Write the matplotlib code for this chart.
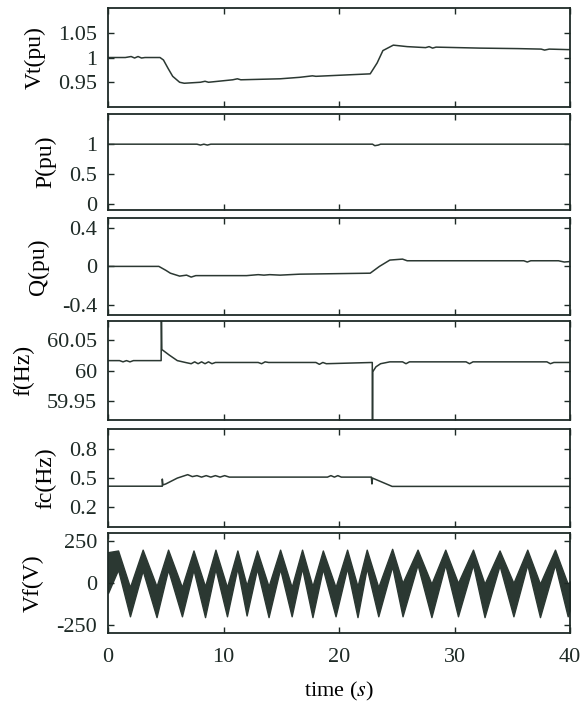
import matplotlib
matplotlib.use('Agg')
import matplotlib.pyplot as plt

plt.rcParams['font.family'] = ['Liberation Serif', 'DejaVu Serif']
plt.rcParams['mathtext.fontset'] = 'stix'

LINE = '#2b3832'

# terminal voltage (pu)
VT_T = [0, 1.5, 2.0, 2.3, 2.6, 2.9, 3.2, 4.5, 4.8, 5.2, 5.6, 6.2, 6.6, 8.0, 8.4, 8.7,
        10.8, 11.2, 11.5, 14.9, 16.6, 17.7, 18.0, 22.7, 23.3, 23.8, 24.7, 25.9,
        27.5, 27.8, 28.1, 28.4, 32.2, 35.5, 37.5, 37.8, 38.2, 39.8, 40]
VT_V = [1.000, 1.000, 1.002, 0.999, 1.002, 0.999, 1.000, 1.000, 0.995, 0.978, 0.962, 0.950, 0.948, 0.950, 0.952, 0.950,
        0.955, 0.957, 0.955, 0.957, 0.960, 0.963, 0.962, 0.967, 0.989, 1.014, 1.025, 1.022,
        1.020, 1.022, 1.019, 1.021, 1.019, 1.018, 1.017, 1.015, 1.017, 1.016, 1.016]

# active power (pu)
P_T = [0, 7.7, 8.0, 8.3, 8.6, 8.9, 9.3, 22.9, 23.1, 23.4, 23.6, 40]
P_V = [1, 1, 0.985, 1.0, 0.985, 1.0, 1.0, 1.0, 0.975, 0.985, 1.0, 1.0]

# reactive power (pu)
Q_T = [0, 4.4, 5.0, 5.4, 6.2, 6.8, 7.2, 7.6, 12.0, 13.0, 13.5, 14.0, 14.9, 16.6,
       22.7, 23.5, 24.4, 25.5, 25.9, 36.0, 36.3, 36.6, 39.0, 39.5, 40]
Q_V = [0, 0, -0.04, -0.07, -0.10, -0.09, -0.11, -0.095, -0.095, -0.085, -0.09, -0.085, -0.09, -0.08,
       -0.07, 0.0, 0.065, 0.075, 0.058, 0.058, 0.045, 0.058, 0.058, 0.045, 0.05]

# frequency (Hz)
F_T = [0, 1.0, 1.3, 1.6, 1.9, 2.2, 2.5, 4.6, 4.62, 4.66, 5.3, 6.0, 6.7, 7.2, 7.5, 7.8,
       8.1, 8.4, 8.7, 9.0, 9.3, 13.0, 13.3, 13.6, 13.9, 18.0, 18.3, 18.6, 18.9, 22.88, 22.9, 22.92,
       23.2, 23.6, 24.4, 25.5, 25.8, 26.1, 31.0, 31.3, 31.6, 38.0, 38.3, 38.6, 40]
F_V = [60.016, 60.016, 60.014, 60.016, 60.014, 60.016, 60.016, 60.016, 60.1, 60.034, 60.025, 60.016, 60.013, 60.011, 60.014, 60.011,
       60.014, 60.011, 60.014, 60.011, 60.013, 60.013, 60.011, 60.014, 60.013, 60.013, 60.010, 60.013, 60.011, 60.013, 59.9, 59.998,
       60.006, 60.011, 60.014, 60.014, 60.011, 60.014, 60.014, 60.011, 60.014, 60.014, 60.011, 60.013, 60.013]

# chopper frequency (Hz)
FC_T = [0, 4.7, 4.7, 4.75, 5.0, 6.0, 6.9, 7.3, 7.7, 8.1, 8.5, 8.9, 9.3, 9.7, 10.1, 10.5,
        19.0, 19.3, 19.6, 19.9, 20.2, 22.8, 22.85, 22.9, 24.6, 40]
FC_V = [0.417, 0.417, 0.49, 0.43, 0.44, 0.50, 0.535, 0.515, 0.525, 0.51, 0.525, 0.51, 0.525, 0.51, 0.525, 0.51,
        0.51, 0.525, 0.51, 0.525, 0.51, 0.51, 0.44, 0.50, 0.415, 0.415]

# field voltage band (V): envelope at each peak / trough
VF_T = [0, 0.87, 1.9, 3.0, 4.2, 5.2, 6.4, 7.4, 8.4, 9.3, 10.3, 11.2, 12.0, 12.9, 13.9,
        14.9, 15.9, 16.8, 17.7, 18.6, 19.7, 20.7, 21.6, 22.4, 23.4, 24.6, 25.5,
        26.8, 28.0, 29.2, 30.3, 31.6, 32.6, 33.9, 35.1, 36.3, 37.4, 38.7, 39.8, 40]
VF_HI = [185, 195, -25, 200, -20, 200, -25, 195, -20, 200, -25, 195, -15, 195, -20,
         200, -25, 200, -20, 195, -25, 200, -20, 200, -25, 205, 0,
         200, -5, 200, 0, 200, -5, 195, 0, 200, -5, 200, -5, 10]
VF_LO = [-60, 80, -200, 75, -205, 80, -200, 80, -205, 85, -200, 90, -195, 85, -205,
         85, -200, 90, -205, 85, -200, 90, -205, 90, -200, 100, -200,
         110, -205, 110, -200, 110, -205, 105, -200, 110, -205, 110, -200, -160]

T_MAX = 40
X_TICKS = [0, 10, 20, 30, 40]

fig = plt.figure(figsize=(5.82, 7.04), dpi=100)
left, width = 0.1856, 0.7938
rects = [(0.848, 0.1406), (0.7017, 0.136), (0.5526, 0.138),
         (0.4034, 0.1406), (0.2514, 0.139), (0.1009, 0.142)]
axes = [fig.add_axes([left, b, width, h]) for b, h in rects]

axes[0].plot(VT_T, VT_V, color=LINE, lw=1.1)
axes[0].set_ylim(0.9, 1.1)
axes[0].set_yticks([0.95, 1.0, 1.05], ['0.95', '1', '1.05'])
axes[0].set_ylabel('Vt(pu)')

axes[1].plot(P_T, P_V, color=LINE, lw=1.1)
axes[1].set_ylim(-0.1, 1.5)
axes[1].set_yticks([0, 0.5, 1], ['0', '0.5', '1'])
axes[1].set_ylabel('P(pu)')

axes[2].plot(Q_T, Q_V, color=LINE, lw=1.1)
axes[2].set_ylim(-0.5, 0.5)
axes[2].set_yticks([-0.4, 0, 0.4], ['-0.4', '0', '0.4'])
axes[2].set_ylabel('Q(pu)')

axes[3].plot(F_T, F_V, color=LINE, lw=1.1)
axes[3].set_ylim(59.92, 60.08)
axes[3].set_yticks([59.95, 60.0, 60.05], ['59.95', '60', '60.05'])
axes[3].set_ylabel('f(Hz)')

axes[4].plot(FC_T, FC_V, color=LINE, lw=1.1)
axes[4].set_ylim(0, 1)
axes[4].set_yticks([0.2, 0.5, 0.8], ['0.2', '0.5', '0.8'])
axes[4].set_ylabel('fc(Hz)')

axes[5].fill_between(VF_T, VF_LO, VF_HI, color=LINE, lw=1.0)
axes[5].set_ylim(-300, 300)
axes[5].set_yticks([-250, 0, 250], ['-250', '0', '250'])
axes[5].set_ylabel('Vf(V)')
axes[5].set_xlabel('time ($s$)', fontsize=16, labelpad=9)

for i, ax in enumerate(axes):
    ax.set_xlim(0, T_MAX)
    ax.set_xticks(X_TICKS)
    ax.tick_params(direction='in', top=True, right=True, length=4, width=1.0,
                   labelsize=16, colors='#1e2a26')
    ax.tick_params(axis='y', pad=8)
    ax.tick_params(axis='x', pad=11)
    if i < len(axes) - 1:
        ax.tick_params(labelbottom=False)
    ax.yaxis.label.set_size(17)
    ax.yaxis.labelpad = 9
    for s in ax.spines.values():
        s.set_linewidth(1.3)
        s.set_color('#1e2a26')

fig.savefig('out.png', dpi=100)
